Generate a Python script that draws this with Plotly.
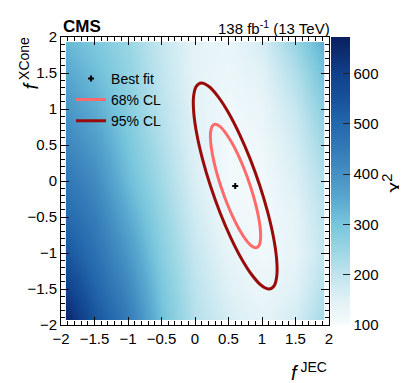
import plotly.graph_objects as go

# ---- data ----
# grid columns / rows (outermost samples sit at the outer bin centres, +-1.93)
f_jec = [-1.93, -1.5, -1.0, -0.5, 0.0, 0.5, 1.0, 1.5, 1.93]
f_xcone = [-1.93, -1.5, -1.0, -0.5, 0.0, 0.5, 1.0, 1.5, 1.93]
# chi2 rows: one row per f_xcone value (bottom to top), columns follow f_jec
chi2 = [
    [660, 545, 450, 310, 215, 165, 140, 170, 240],
    [600, 510, 420, 295, 205, 150, 125, 150, 215],
    [540, 475, 385, 275, 190, 135, 115, 135, 195],
    [495, 445, 350, 258, 175, 120, 108, 140, 205],
    [460, 412, 318, 238, 160, 110, 112, 155, 220],
    [425, 378, 298, 222, 150, 110, 120, 170, 245],
    [390, 345, 278, 207, 145, 115, 130, 190, 275],
    [355, 315, 262, 196, 140, 125, 145, 220, 310],
    [325, 292, 252, 190, 140, 130, 165, 255, 345],
]
chi2_ticks = [100, 200, 300, 400, 500, 600]
chi2_range = [100, 673]

best_fit_x = [0.60]
best_fit_y = [-0.07]

# contour outlines
cl95_x = [0.969, 0.826, 0.667, 0.504, 0.347, 0.208, 0.095, 0.017, -0.022, -0.018, 0.028, 0.113,
          0.231, 0.374, 0.533, 0.696, 0.853, 0.992, 1.105, 1.183, 1.222, 1.218, 1.172, 1.087, 0.969]
cl95_y = [-0.070, 0.300, 0.645, 0.942, 1.169, 1.312, 1.361, 1.312, 1.169, 0.942, 0.645, 0.300,
          -0.070, -0.440, -0.785, -1.082, -1.309, -1.452, -1.501, -1.452, -1.309, -1.082, -0.785, -0.440, -0.070]

cl68_x = [0.826, 0.740, 0.645, 0.547, 0.453, 0.370, 0.302, 0.255, 0.232, 0.234, 0.262, 0.313,
          0.384, 0.470, 0.565, 0.663, 0.757, 0.840, 0.908, 0.955, 0.978, 0.976, 0.948, 0.897, 0.826]
cl68_y = [-0.070, 0.152, 0.359, 0.537, 0.673, 0.759, 0.788, 0.759, 0.673, 0.537, 0.359, 0.152,
          -0.070, -0.292, -0.499, -0.677, -0.813, -0.899, -0.928, -0.899, -0.813, -0.677, -0.499, -0.292, -0.070]

FONT = "Liberation Sans, Arial, Helvetica, sans-serif"

colorscale = [
    [0.000, "#f7fbfd"],
    [0.087, "#e0f1f6"],
    [0.175, "#bfe4ee"],
    [0.262, "#9ad6e4"],
    [0.349, "#78c6dc"],
    [0.436, "#5aa9d0"],
    [0.524, "#4590c3"],
    [0.611, "#337bb8"],
    [0.698, "#2468ac"],
    [0.785, "#17529b"],
    [0.873, "#10408a"],
    [1.000, "#0a1f5e"],
]

fig = go.Figure()
fig.add_trace(go.Contour(
    x=f_jec, y=f_xcone, z=chi2,
    zmin=chi2_range[0], zmax=chi2_range[1], zauto=False, colorscale=colorscale,
    contours=dict(coloring="heatmap", showlines=False),
    line=dict(width=0),
    showscale=True, showlegend=False, hoverinfo="skip",
    colorbar=dict(
        x=1.0075, xanchor="left", xpad=0, y=0.5, yanchor="middle", ypad=0,
        len=1.0, lenmode="fraction", thickness=19,
        outlinewidth=0,
        tickmode="array", tickvals=chi2_ticks, ticks="inside", ticklen=7, tickcolor="#222",
        tickfont=dict(family=FONT, size=15, color="black"),
    ),
))
fig.add_trace(go.Scatter(
    x=best_fit_x, y=best_fit_y, mode="markers", name="Best fit",
    marker=dict(symbol="cross", size=5, color="black"),
))
fig.add_trace(go.Scatter(
    x=cl68_x, y=cl68_y, mode="lines", name="68% CL",
    line=dict(color="#ff6b6b", width=3, shape="spline", smoothing=1.0),
))
fig.add_trace(go.Scatter(
    x=cl95_x, y=cl95_y, mode="lines", name="95% CL",
    line=dict(color="#990b0b", width=3, shape="spline", smoothing=1.0),
))

axis_common = dict(
    range=[-2, 2], dtick=0.5, tick0=0, ticks="inside", ticklen=8, tickwidth=1,
    tickcolor="black", mirror="allticks", showline=True, linecolor="black", linewidth=1,
    showgrid=False, zeroline=False,
    tickfont=dict(family=FONT, size=15, color="black"),
    minor=dict(dtick=0.1, ticks="inside", ticklen=4, tickcolor="black", showgrid=False),
)

fig.update_layout(
    width=399, height=375,
    margin=dict(l=53, r=78, t=29, b=58, autoexpand=False),
    paper_bgcolor="white", plot_bgcolor="white",
    font=dict(family=FONT, color="black"),
    xaxis=axis_common,
    yaxis=axis_common,
    legend=dict(x=0.0375, y=0.9105, xanchor="left", yanchor="top",
                bgcolor="rgba(0,0,0,0)", font=dict(family=FONT, size=14, color="black"),
                tracegroupgap=0, itemwidth=30),
    annotations=[
        dict(text="<b>CMS</b>", xref="paper", yref="paper", x=0.0, y=1.0,
             xanchor="left", yanchor="bottom", showarrow=False, yshift=-1,
             font=dict(family=FONT, size=17, color="black")),
        dict(text="138 fb<sup>-1</sup> (13 TeV)", xref="paper", yref="paper", x=1.01, y=1.0,
             xanchor="right", yanchor="bottom", showarrow=False, yshift=-2,
             font=dict(family=FONT, size=15, color="black")),
        dict(text="<i>f</i><sup> JEC</sup>", xref="paper", yref="paper", x=1.0, y=-0.11,
             xanchor="right", yanchor="top", showarrow=False,
             font=dict(family=FONT, size=20, color="black")),
        dict(text="<i>f</i><sup> XCone</sup>", xref="paper", yref="paper", x=-0.12, y=1.005,
             xanchor="center", yanchor="top", showarrow=False, textangle=-90,
             font=dict(family=FONT, size=20, color="black")),
        dict(text="χ<sup>2</sup>", xref="paper", yref="paper", x=1.235, y=0.494,
             xanchor="center", yanchor="middle", showarrow=False, textangle=-90,
             font=dict(family=FONT, size=21, color="black")),
    ],
)

fig.write_html("out.html")
